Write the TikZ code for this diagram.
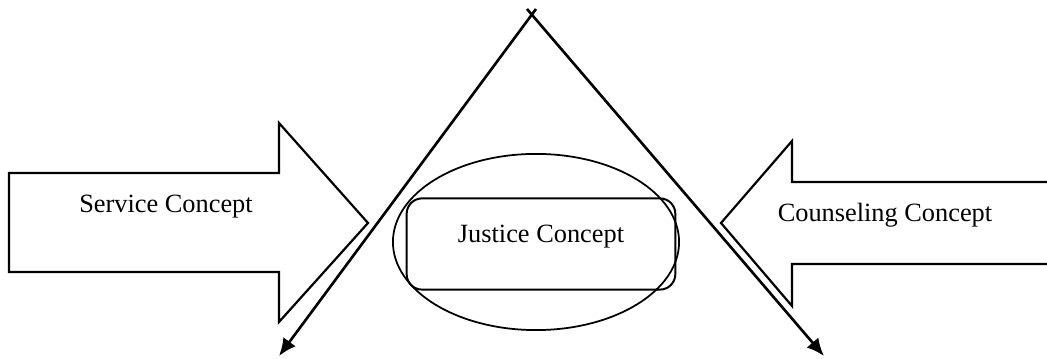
\documentclass[tikz,border=0pt]{standalone}
\usepackage{fontspec}
\setmainfont{Liberation Serif}
\usetikzlibrary{arrows.meta,positioning,shapes.geometric}

\tikzset{
  concept/.style={font=\fontsize{12}{14}\selectfont, inner sep=0pt},
  blockarrow/.style={draw, line width=1pt, line join=miter},
  splitline/.style={-{Latex[length=8pt,width=7pt]}, line width=1.2pt},
}

\begin{document}
\begin{tikzpicture}[x=0.016cm, y=-0.016cm]
  \useasboundingbox (0,0) rectangle (1047,359);

  % ---- the two block arrows pointing inward ----
  \draw[blockarrow] (9,173) -- (279,173) -- (279,123) -- (368,223)
        -- (279,322) -- (279,272) -- (9,272) -- cycle;
  \draw[blockarrow] (1047,182) -- (792,182) -- (792,141) -- (721,223)
        -- (792,306) -- (792,264) -- (1047,264);

  \node[concept] (service) at (166,207) {Service Concept};
  \node[concept] (counsel) at (885,215) {Counseling Concept};

  % ---- the centre: ellipse with the rounded box ----
  \node[draw, ellipse, line width=0.8pt, minimum width=4.58cm,
        minimum height=2.82cm, inner sep=0pt] (ring) at (536,242) {};
  \node[draw, rounded corners=7pt, line width=0.9pt, minimum width=4.3cm,
        minimum height=1.46cm, inner sep=0pt] (jbox) at (541,244) {};
  \node[concept] (justice) at (541,237) {Justice Concept};

  % ---- the two lines that cross at the top ----
  \coordinate (leftstart)  at (536,9);
  \coordinate (rightstart) at (527,9);
  \coordinate (leftend)    at (279,356);
  \coordinate (rightend)   at (824,356);
  \draw[splitline] (leftstart) -- (leftend);
  \draw[splitline] (rightstart) -- (rightend);

\end{tikzpicture}
\end{document}
